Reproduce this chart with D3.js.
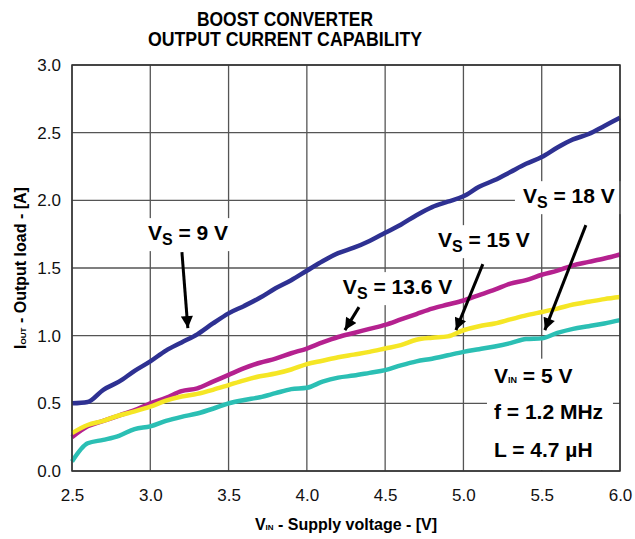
<!DOCTYPE html>
<html>
<head>
<meta charset="utf-8">
<script src="https://cdn.jsdelivr.net/npm/d3@7"></script>
<style>
  html, body { margin: 0; padding: 0; background: #fff; }
  svg { display: block; font-family: "Liberation Sans", Arial, sans-serif; }
</style>
</head>
<body>
<div id="chart"></div>
<script>
// supply voltage (V)
const vin = [2.5, 2.6, 2.7, 2.8, 2.9, 3.0, 3.1, 3.2, 3.3, 3.4, 3.5, 3.6, 3.7, 3.8, 3.9,
  4.0, 4.1, 4.2, 4.3, 4.4, 4.5, 4.6, 4.7, 4.8, 4.9, 5.0, 5.1, 5.2, 5.3, 5.4, 5.5,
  5.6, 5.7, 5.8, 5.9, 6.0];

// output current (A) per Vs
const vs9 = [0.50, 0.51, 0.60, 0.66, 0.74, 0.81, 0.89, 0.95, 1.01, 1.09, 1.165, 1.22, 1.28, 1.35, 1.41,
  1.48, 1.55, 1.61, 1.65, 1.70, 1.76, 1.82, 1.89, 1.95, 1.99, 2.03, 2.10, 2.15, 2.21, 2.27, 2.32,
  2.39, 2.45, 2.49, 2.55, 2.61];
const vs136 = [0.25, 0.33, 0.37, 0.41, 0.45, 0.50, 0.54, 0.59, 0.61, 0.66, 0.71, 0.76, 0.80, 0.83, 0.87,
  0.905, 0.95, 0.99, 1.02, 1.05, 1.08, 1.12, 1.16, 1.20, 1.23, 1.26, 1.30, 1.34, 1.385, 1.41, 1.45,
  1.48, 1.52, 1.545, 1.57, 1.60];
const vs15 = [0.28, 0.34, 0.37, 0.41, 0.44, 0.475, 0.52, 0.55, 0.57, 0.60, 0.635, 0.67, 0.70, 0.72, 0.75,
  0.79, 0.815, 0.84, 0.86, 0.88, 0.905, 0.93, 0.97, 0.985, 0.995, 1.04, 1.07, 1.09, 1.12, 1.15, 1.175,
  1.20, 1.23, 1.25, 1.27, 1.285];
const vs18 = [0.07, 0.205, 0.23, 0.26, 0.31, 0.33, 0.37, 0.40, 0.425, 0.46, 0.50, 0.525, 0.545, 0.575, 0.605,
  0.615, 0.66, 0.69, 0.705, 0.725, 0.745, 0.78, 0.81, 0.83, 0.855, 0.88, 0.90, 0.92, 0.945, 0.975, 0.98,
  1.02, 1.05, 1.07, 1.09, 1.115];

const xTicks = [2.5, 3.0, 3.5, 4.0, 4.5, 5.0, 5.5, 6.0];
const yTicks = [0.0, 0.5, 1.0, 1.5, 2.0, 2.5, 3.0];

const series = [
  { name: '9', values: vs9, color: '#2e3192' },
  { name: '13.6', values: vs136, color: '#b5218f' },
  { name: '15', values: vs15, color: '#f5e625' },
  { name: '18', values: vs18, color: '#2bbfb4' }
];

const width = 635, height = 539;
const margin = { top: 65, right: 15, bottom: 68, left: 72 };

const svg = d3.select('#chart').append('svg')
  .attr('width', width)
  .attr('height', height);

const x = d3.scaleLinear().domain([2.5, 6.0]).range([margin.left, width - margin.right]);
const y = d3.scaleLinear().domain([0, 3.0]).range([height - margin.bottom, margin.top]);

// title
const title = svg.append('g')
  .attr('font-weight', 'bold')
  .attr('font-size', 20)
  .attr('text-anchor', 'middle');
title.append('text').attr('x', 285).attr('y', 26)
  .attr('textLength', 176).attr('lengthAdjust', 'spacingAndGlyphs')
  .text('BOOST CONVERTER');
title.append('text').attr('x', 285).attr('y', 46)
  .attr('textLength', 274).attr('lengthAdjust', 'spacingAndGlyphs')
  .text('OUTPUT CURRENT CAPABILITY');

// grid
const grid = svg.append('g').attr('stroke', '#555').attr('stroke-width', 1.3);
grid.selectAll('.gx').data(xTicks).join('line')
  .attr('x1', d => x(d)).attr('x2', d => x(d))
  .attr('y1', y(0)).attr('y2', y(3));
grid.selectAll('.gy').data(yTicks).join('line')
  .attr('x1', x(2.5)).attr('x2', x(6))
  .attr('y1', d => y(d)).attr('y2', d => y(d));

// axes labels
svg.append('g')
  .attr('transform', `translate(0,${y(0)})`)
  .call(d3.axisBottom(x).tickValues(xTicks).tickFormat(d3.format('.1f')).tickSize(0).tickPadding(18))
  .call(g => g.select('.domain').remove())
  .call(g => g.selectAll('text').attr('font-size', 17).attr('fill', '#111')
    .attr('font-family', '"Liberation Sans", Arial, sans-serif'));

svg.append('g')
  .attr('transform', `translate(${x(2.5)},0)`)
  .call(d3.axisLeft(y).tickValues(yTicks).tickFormat(d3.format('.1f')).tickSize(0).tickPadding(11))
  .call(g => g.select('.domain').remove())
  .call(g => g.selectAll('text').attr('font-size', 17).attr('fill', '#111')
    .attr('font-family', '"Liberation Sans", Arial, sans-serif'));

// axis titles
const xt = svg.append('text')
  .attr('x', (x(2.5) + x(6)) / 2).attr('y', 530)
  .attr('text-anchor', 'middle').attr('font-weight', 'bold').attr('font-size', 16);
xt.append('tspan').text('V');
xt.append('tspan').attr('font-size', 8).text('IN');
xt.append('tspan').text(' - Supply voltage - [V]');

const yt = svg.append('text')
  .attr('transform', `translate(26,${(y(0) + y(3)) / 2}) rotate(-90)`)
  .attr('text-anchor', 'middle').attr('font-weight', 'bold').attr('font-size', 16);
yt.append('tspan').text('I');
yt.append('tspan').attr('font-size', 8).text('OUT');
yt.append('tspan').text(' - Output load - [A]');

// annotation white boxes go under the curves
const boxLayer = svg.append('g');
const lineLayer = svg.append('g');
const annLayer = svg.append('g');

// border
svg.append('rect')
  .attr('x', x(2.5)).attr('y', y(3))
  .attr('width', x(6) - x(2.5)).attr('height', y(0) - y(3))
  .attr('fill', 'none').attr('stroke', '#333').attr('stroke-width', 1.5);

// curves
const line = d3.line()
  .x((d, i) => x(vin[i]))
  .y(d => y(d))
  .curve(d3.curveMonotoneX);

lineLayer.selectAll('path').data(series).join('path')
  .attr('d', d => line(d.values))
  .attr('fill', 'none')
  .attr('stroke', d => d.color)
  .attr('stroke-width', 4.5)
  .attr('stroke-linejoin', 'round');

// arrow head
svg.append('defs').append('marker')
  .attr('id', 'head')
  .attr('markerUnits', 'userSpaceOnUse')
  .attr('viewBox', '0 0 10 10')
  .attr('refX', 10).attr('refY', 5)
  .attr('markerWidth', 13).attr('markerHeight', 12)
  .attr('orient', 'auto')
  .append('path').attr('d', 'M0,0 L10,5 L0,10 Z').attr('fill', '#000');

// callouts: label position and arrow in data units
const callouts = [
  { label: '9 V', at: [2.985, 1.706], from: [3.202, 1.617], to: [3.24, 1.056] },
  { label: '13.6 V', at: [4.23, 1.307], from: [4.333, 1.211], to: [4.243, 1.041] },
  { label: '15 V', at: [4.837, 1.654], from: [5.124, 1.529], to: [4.952, 1.041] },
  { label: '18 V', at: [5.38, 1.979], from: [5.782, 1.817], to: [5.52, 1.041] }
];

callouts.forEach(c => {
  const t = annLayer.append('text')
    .attr('x', x(c.at[0])).attr('y', y(c.at[1]))
    .attr('font-weight', 'bold').attr('font-size', 21).attr('fill', '#000');
  t.append('tspan').text('V');
  t.append('tspan').attr('font-size', 16).attr('dy', 5).text('S');
  t.append('tspan').attr('dy', -5).text(' = ' + c.label);
  const b = t.node().getBBox();
  boxLayer.append('rect')
    .attr('x', b.x - 8).attr('y', b.y - 3)
    .attr('width', b.width + 16).attr('height', b.height + 6)
    .attr('fill', '#fff');
  annLayer.append('line')
    .attr('x1', x(c.from[0])).attr('y1', y(c.from[1]))
    .attr('x2', x(c.to[0])).attr('y2', y(c.to[1]))
    .attr('stroke', '#000').attr('stroke-width', 3)
    .attr('marker-end', 'url(#head)');
});

// test conditions
const conds = [
  { main: 'V', sub: 'IN', rest: ' = 5 V', at: 0.65 },
  { main: 'f = 1.2 MHz', sub: '', rest: '', at: 0.384 },
  { main: 'L = 4.7 µH', sub: '', rest: '', at: 0.103 }
];
const condX = 5.195;
conds.forEach(c => {
  const t = annLayer.append('text')
    .attr('x', x(condX)).attr('y', y(c.at))
    .attr('font-weight', 'bold').attr('font-size', 21).attr('fill', '#000');
  t.append('tspan').text(c.main);
  if (c.sub) t.append('tspan').attr('font-size', 9).text(c.sub);
  if (c.rest) t.append('tspan').text(c.rest);
});
boxLayer.append('rect')
  .attr('x', x(condX) - 7).attr('y', y(0.83))
  .attr('width', 126).attr('height', y(0) - y(0.83) - 1)
  .attr('fill', '#fff');
</script>
</body>
</html>
